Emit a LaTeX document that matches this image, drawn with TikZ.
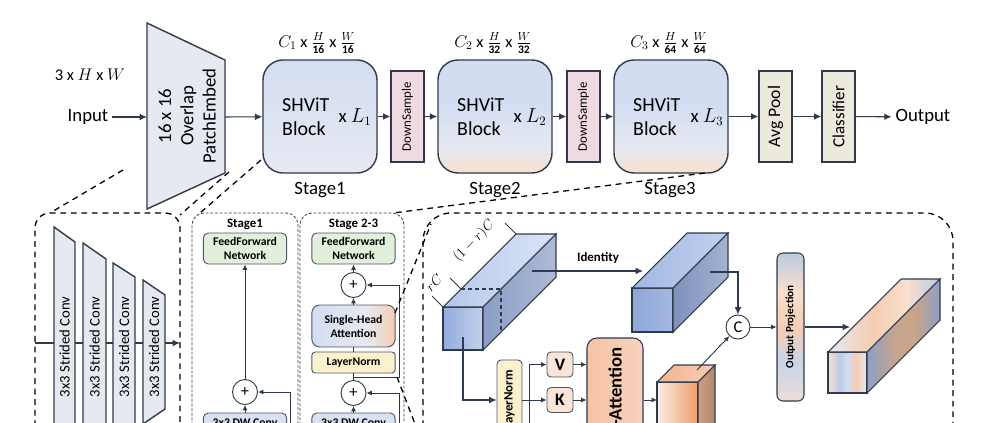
\documentclass[tikz,border=0pt]{standalone}
\usepackage{fontspec}
\setmainfont{Carlito}
\usepackage{amsmath}
\usepackage{graphicx}
\usepackage{xcolor}
\usetikzlibrary{arrows.meta,positioning,calc}
\definecolor{lineDark}{HTML}{2F3B4C}
\definecolor{convGray}{HTML}{E6E9F0}
\definecolor{blockBlue}{HTML}{D3DDF1}
\definecolor{blockPale}{HTML}{E6E9F1}
\definecolor{peach}{HTML}{F9E0CC}
\definecolor{peachDeep}{HTML}{F6CDB2}
\definecolor{dsPink}{HTML}{EFDAE2}
\definecolor{poolBeige}{HTML}{ECEADD}
\definecolor{ffnGreen}{HTML}{E2EFDA}
\definecolor{lnYellow}{HTML}{FDF0CD}
\definecolor{dwBlue}{HTML}{D9E2F3}
\definecolor{attnOrange}{HTML}{F5C3A5}
\definecolor{attnLight}{HTML}{F8D3BE}
\definecolor{qkvPeach}{HTML}{FBE4D8}
\definecolor{cubeBlueD}{HTML}{93ACDC}
\definecolor{cubeBlueL}{HTML}{C3D1ED}
\definecolor{cubeTopD}{HTML}{B4C7EA}
\definecolor{cubeTopL}{HTML}{DCE5F6}
\definecolor{cubeSideD}{HTML}{8A9DC5}
\definecolor{cubeSideL}{HTML}{AEBBD7}
\definecolor{cubeTwoF}{HTML}{8DA7D9}
\definecolor{cubeTwoFL}{HTML}{A4B8E1}
\definecolor{cubeTwoT}{HTML}{A2B7E2}
\definecolor{cubeTwoTL}{HTML}{C3D1EE}
\definecolor{cubeTwoS}{HTML}{7C91BB}
\definecolor{cubeTwoSL}{HTML}{A5B3D1}
\definecolor{orgLight}{HTML}{FCEDE3}
\definecolor{orgMid}{HTML}{F2B590}
\definecolor{orgDeep}{HTML}{EE9E6F}
\definecolor{orgSide}{HTML}{CF9F83}
\definecolor{orgSideD}{HTML}{B3876E}
\definecolor{mixBlue}{HTML}{BACAE7}
\definecolor{mixGray}{HTML}{8E9FC4}
\definecolor{mixTan}{HTML}{C8A48C}
\definecolor{opTop}{HTML}{BCC9E1}
\definecolor{opLow}{HTML}{C9D4EA}
\definecolor{opBot}{HTML}{ECDDD6}

% shadings
\pgfdeclareverticalshading{blockone}{100bp}{color(0bp)=(blockPale); color(25bp)=(blockPale); color(75bp)=(blockBlue); color(100bp)=(blockBlue)}
\pgfdeclareverticalshading{blocktwo}{100bp}{color(0bp)=(peach); color(25bp)=(peach); color(36bp)=(blockPale); color(55bp)=(blockBlue); color(100bp)=(blockBlue)}
\pgfdeclarehorizontalshading{shashade}{100bp}{color(0bp)=(blockBlue); color(25bp)=(blockBlue); color(58bp)=(blockPale); color(75bp)=(peachDeep); color(100bp)=(peachDeep)}
\pgfdeclareverticalshading{opshade}{100bp}{color(0bp)=(opBot); color(25bp)=(opBot); color(38bp)=(opLow); color(50bp)=(peachDeep); color(62bp)=(peach); color(75bp)=(opTop); color(100bp)=(opTop)}
\pgfdeclarehorizontalshading{mixfront}{100bp}{color(0bp)=(peach); color(25bp)=(peach); color(40bp)=(mixBlue); color(50bp)=(blockBlue); color(62bp)=(peachDeep); color(75bp)=(blockPale); color(100bp)=(blockPale)}
\pgfdeclarehorizontalshading{mixtop}{100bp}{color(0bp)=(blockPale); color(25bp)=(blockPale); color(45bp)=(peachDeep); color(60bp)=(peach); color(75bp)=(mixBlue); color(100bp)=(mixBlue)}
\pgfdeclarehorizontalshading{mixside}{100bp}{color(0bp)=(mixGray); color(25bp)=(mixGray); color(45bp)=(mixTan); color(58bp)=(mixTan); color(75bp)=(mixGray); color(100bp)=(mixGray)}
\pgfdeclarehorizontalshading{orgfront}{100bp}{color(0bp)=(orgLight); color(25bp)=(orgLight); color(60bp)=(orgMid); color(75bp)=(orgDeep); color(100bp)=(orgDeep)}
\pgfdeclarehorizontalshading{attnshade}{100bp}{color(0bp)=(attnOrange); color(25bp)=(attnOrange); color(75bp)=(attnLight); color(100bp)=(attnLight)}

% x y w h depth front top side
\newcommand{\drawcube}[8]{%
  \shade[#6, draw=lineDark, line width=0.9pt] (#1,#2) rectangle ({#1+#3},{#2+#4});
  \shade[#7, draw=lineDark, line width=0.9pt] (#1,#2) -- ({#1+#5},{#2-#5}) -- ({#1+#3+#5},{#2-#5}) -- ({#1+#3},#2) -- cycle;
  \shade[#8, draw=lineDark, line width=0.9pt] ({#1+#3},#2) -- ({#1+#3+#5},{#2-#5}) -- ({#1+#3+#5},{#2+#4-#5}) -- ({#1+#3},{#2+#4}) -- cycle;
}

\begin{document}
\begin{tikzpicture}[x=0.03cm, y=-0.03cm, font=\fontsize{16}{19}\selectfont,
  arr/.style={-{Latex[length=2.2mm,width=2mm]}, line width=0.9pt, draw=lineDark},
  sarr/.style={-{Latex[length=1.6mm,width=1.5mm]}, line width=0.8pt, draw=lineDark},
  blk/.style={draw=lineDark, line width=1.2pt, rounded corners=0.6cm, minimum width=3.42cm, minimum height=3.39cm, shade, inner sep=0pt},
  blktxt/.style={anchor=west, align=left, inner sep=0pt, font=\fontsize{17}{20.5}\selectfont},
  thinbox/.style={draw=lineDark, line width=1.1pt, minimum width=0.99cm, minimum height=2.73cm, inner sep=0pt},
  dimtxt/.style={font=\fontsize{14}{16}\selectfont},
  convshape/.style={draw=lineDark, line width=1.2pt, fill=convGray},
  zoomline/.style={draw=black, line width=1.1pt, dash pattern=on 5pt off 4pt},
  stagebox/.style={draw=black!75, line width=0.7pt, dash pattern=on 2.5pt off 1.5pt, rounded corners=0.36cm},
  ttl/.style={font=\bfseries\fontsize{11}{13}\selectfont},
  smallbox/.style={draw=lineDark!85, line width=0.8pt, rounded corners=0.15cm, minimum width=2.5cm, inner sep=1pt, align=center, font=\bfseries\fontsize{10}{12}\selectfont},
  plus/.style={circle, draw=lineDark, line width=0.8pt, fill=white, minimum size=0.75cm, inner sep=0pt, font=\fontsize{14}{14}\selectfont},
  qkv/.style={draw=lineDark!85, line width=0.8pt, rounded corners=0.12cm, fill=qkvPeach, minimum width=0.78cm, minimum height=0.75cm, inner sep=0pt, font=\bfseries\fontsize{15}{15}\selectfont},
  ccirc/.style={circle, draw=lineDark, line width=0.8pt, fill=white, minimum size=0.72cm, inner sep=0pt, font=\fontsize{14}{14}\selectfont}]
  \useasboundingbox (0,0) rectangle (995,423);
  \clip (0,0) rectangle (995,423);
  \fill[white] (0,0) rectangle (995,423);

  % top row
  \node[dimtxt] (inshape) at (90,75) {3 x $H$ x $W$};
  \node (input) at (88,117) {Input};
  \draw[convshape] (147,23) -- (225,60) -- (225,173) -- (147,209) -- cycle;
  \node[rotate=90, align=center] (pe) at (187,116) {16 x 16\\Overlap\\PatchEmbed};
  \coordinate (pe-in) at (147,117);
  \coordinate (pe-out) at (225,117);

  \node[blk, shading=blockone] (blk1) at (320,116.5) {};
  \node[blk, shading=blocktwo] (blk2) at (495,116.5) {};
  \node[blk, shading=blocktwo] (blk3) at (671,116.5) {};
  \node[blktxt] (blk1t) at (282,116.5) {SHViT\\Block};
  \node[blktxt] (blk2t) at (457,116.5) {SHViT\\Block};
  \node[blktxt] (blk3t) at (633,116.5) {SHViT\\Block};
  \node (blk1n) at (355,117) {x $L_1$};
  \node (blk2n) at (530,117) {x $L_2$};
  \node (blk3n) at (707,117) {x $L_3$};
  \node[dimtxt] (dim1) at (317,43) {$C_1$ x $\frac{H}{\mathbf{16}}$ x $\frac{W}{\mathbf{16}}$};
  \node[dimtxt] (dim2) at (493,43) {$C_2$ x $\frac{H}{\mathbf{32}}$ x $\frac{W}{\mathbf{32}}$};
  \node[dimtxt] (dim3) at (669,43) {$C_3$ x $\frac{H}{\mathbf{64}}$ x $\frac{W}{\mathbf{64}}$};
  \node (stg1) at (320,190) {Stage1};
  \node (stg2) at (495,190) {Stage2};
  \node (stg3) at (670,190) {Stage3};

  \node[thinbox, fill=dsPink, font=\fontsize{11}{13}\selectfont] (ds1) at (407.5,116.5) {\rotatebox{90}{DownSample}};
  \node[thinbox, fill=dsPink, font=\fontsize{11}{13}\selectfont] (ds2) at (583.5,116.5) {\rotatebox{90}{DownSample}};
  \node[thinbox, fill=poolBeige, font=\fontsize{15}{17}\selectfont] (pool) at (775.5,116.5) {\rotatebox{90}{Avg Pool}};
  \node[thinbox, fill=poolBeige, font=\fontsize{14.5}{17}\selectfont] (cls) at (838.5,116.5) {\rotatebox{90}{Classifier}};
  \node (output) at (923,117) {Output};

  \draw[arr] (input) -- (pe-in);
  \draw[arr] (pe-out) -- (blk1);
  \draw[arr] (blk1) -- (ds1);
  \draw[arr] (ds1) -- (blk2);
  \draw[arr] (blk2) -- (ds2);
  \draw[arr] (ds2) -- (blk3);
  \draw[arr] (blk3) -- (pool);
  \draw[arr] (pool) -- (cls);
  \draw[arr] (cls) -- (output);

  % patch embed detail
  \draw[zoomline, rounded corners=0.45cm] (35,500) -- (35,213) -- (180,213) -- (180,500);
  \coordinate (pin) at (35,343);
  \coordinate (pout) at (180,343);
  \draw[arr] (pin) -- (pout);
  \foreach \i/\xl/\xr/\yl/\yr in {1/54/75/227/242,2/83/106/243/259,3/113/135/263/277,4/143/165/280/295}{
    \draw[convshape] (\xl,\yl) -- (\xr,\yr) -- (\xr,{704-\yr}) -- (\xl,{704-\yl}) -- cycle;
    \node[rotate=90, font=\fontsize{12.5}{15}\selectfont] (sc\i) at ({(\xl+\xr)/2},347) {3x3 Strided Conv};
  }

  % stage blocks
  \draw[stagebox] (192,500) -- (192,213) -- (298,213) -- (298,500);
  \draw[stagebox] (300,500) -- (300,213) -- (404,213) -- (404,500);
  \node[ttl] (st1) at (245,224) {Stage1};
  \node[ttl] (st23) at (353.5,224) {Stage 2-3};
  \node[smallbox, fill=ffnGreen, minimum height=0.93cm] (ffn1) at (245,248.5) {FeedForward\\Network};
  \node[plus] (plus1) at (245,392) {+};
  \node[smallbox, fill=dwBlue, minimum height=0.6cm] (dw1) at (245,423) {3x3 DW Conv};
  \coordinate (skip1) at (290,440);
  \draw[sarr] (dw1) -- (plus1);
  \draw[sarr] (plus1) -- (ffn1);
  \draw[sarr] (skip1) |- (plus1);

  \node[smallbox, fill=ffnGreen, minimum height=0.93cm] (ffn2) at (353.5,248.5) {FeedForward\\Network};
  \node[plus] (plus2a) at (353.5,285) {+};
  \node[smallbox, shade, shading=shashade, rounded corners=0.24cm, minimum height=1.26cm] (sha) at (353.5,326) {Single-Head\\Attention};
  \node[smallbox, fill=lnYellow, rounded corners=0.1cm, minimum height=0.63cm] (ln) at (353.5,362.5) {LayerNorm};
  \node[plus] (plus2b) at (353.5,393) {+};
  \node[smallbox, fill=dwBlue, minimum height=0.6cm] (dw2) at (353.5,423) {3x3 DW Conv};
  \coordinate (tap) at (353.5,377);
  \coordinate (skip2a) at (399.5,377);
  \coordinate (skip2b) at (399.5,440);
  \draw[sarr] (dw2) -- (plus2b);
  \draw[line width=0.8pt, lineDark] (plus2b) -- (ln);
  \draw[line width=0.8pt, lineDark] (ln) -- (sha);
  \draw[sarr] (sha) -- (plus2a);
  \draw[sarr] (plus2a) -- (ffn2);
  \draw[sarr] (tap) -- (skip2a) |- (plus2a);
  \draw[sarr] (skip2b) |- (plus2b);

  % single-head attention detail
  \draw[zoomline, rounded corners=0.84cm] (423,500) -- (423,213) -- (953,213) -- (953,500);
  \drawcube{443}{307}{40}{43}{73}{left color=cubeBlueD, right color=cubeBlueL}{left color=cubeTopD, right color=cubeTopL}{left color=cubeSideD, right color=cubeSideL}
  \draw[lineDark, line width=1pt, dashed] (461,289) -- (501,289) -- (501,332);
  \draw[lineDark, line width=0.7pt] (443,307) -- ++(-11,-11);
  \draw[lineDark, line width=0.7pt] (461,289) -- ++(-11,-11);
  \draw[lineDark, line width=0.7pt] (516,234) -- ++(-11,-11);
  \node[rotate=45, inner sep=0pt, font=\fontsize{13}{15}\selectfont] (lrc) at (434,283) {$rC$};
  \node[rotate=45, inner sep=0pt, font=\fontsize{13}{15}\selectfont] (l1rc) at (474,241) {$(1-r)C$};

  \drawcube{632}{288}{41}{44}{55}{left color=cubeTwoF, right color=cubeTwoFL}{left color=cubeTwoT, right color=cubeTwoTL}{left color=cubeTwoS, right color=cubeTwoSL}
  \drawcube{828}{352}{39}{41}{73}{shading=mixfront}{shading=mixtop}{shading=mixside}
  \drawcube{657}{382}{41}{70}{17}{shading=orgfront}{left color=orgMid, right color=peachDeep}{left color=orgSide, right color=orgSideD}

  \coordinate (c1s) at (532,271);
  \coordinate (c2in) at (643,271);
  \coordinate (c2s) at (710,272);
  \coordinate (c1f) at (463,337);
  \coordinate (c4t) at (697,370);
  \coordinate (c4in) at (657,400);
  \coordinate (c3in) at (850,327);
  \coordinate (br) at (529,400);
  \draw[arr] (c1s) -- (c2in);
  \node[font=\bfseries\fontsize{11}{13}\selectfont] (ident) at (598,258) {Identity};

  \node[ccirc] (cc) at (738,327) {C};
  \node[draw=lineDark, line width=0.9pt, rounded corners=0.18cm, shade, shading=opshade, minimum width=0.81cm, minimum height=4.44cm, inner sep=0pt, font=\bfseries\fontsize{9.5}{11}\selectfont] (op) at (790.5,327) {\rotatebox{90}{Output Projection}};
  \draw[arr] (c2s) -| (cc);
  \draw[sarr] (c4t) -- (cc);
  \draw[sarr] (cc) -- (op);
  \draw[arr] (op) -- (c3in);

  \node[draw=lineDark, line width=0.9pt, rounded corners=0.3cm, shade, shading=attnshade, minimum width=1.68cm, minimum height=3.96cm] (attn) at (615,404) {};
  \node[rotate=90, anchor=east, inner sep=0pt, font=\bfseries\fontsize{16}{18}\selectfont] (attntxt) at (615,347) {-Attention};
  \node[draw=lineDark!85, line width=0.8pt, rounded corners=0.12cm, fill=lnYellow, minimum width=0.75cm, minimum height=3cm] (ln2) at (509.5,410) {};
  \node[rotate=90, anchor=east, inner sep=0pt, font=\bfseries\fontsize{11}{13}\selectfont] (ln2t) at (509.5,370) {LayerNorm};
  \node[qkv] (v) at (560,364.5) {V};
  \node[qkv] (k) at (560,400) {K};
  \node[qkv] (q) at (560,436) {};
  \draw[arr] (c1f) |- (k -| ln2.west);
  \draw[sarr] (k -| ln2.east) -- (k);
  \draw[sarr] (br) |- (v);
  \draw[sarr] (br) |- (q);
  \draw[sarr] (v) -- (v -| attn.west);
  \draw[sarr] (k) -- (k -| attn.west);
  \draw[sarr] (k -| attn.east) -- (c4in);

  % zoom lines
  \coordinate (z1a) at (123,170);  \coordinate (z1b) at (50,213);
  \coordinate (z2a) at (229,172);  \coordinate (z2b) at (180,215);
  \coordinate (z3a) at (261,160);  \coordinate (z3b) at (200,213);
  \coordinate (z4a) at (705,173);  \coordinate (z4b) at (393,213);
  \coordinate (z5a) at (395,313);  \coordinate (z5b) at (431,224);
  \coordinate (z6a) at (397,377);  \coordinate (z6b) at (425,450);
  \draw[zoomline] (z1a) -- (z1b);
  \draw[zoomline] (z2a) -- (z2b);
  \draw[zoomline] (z3a) -- (z3b);
  \draw[zoomline] (z4a) -- (z4b);
  \draw[zoomline] (z5a) -- (z5b);
  \draw[zoomline] (z6a) -- (z6b);
\end{tikzpicture}
\end{document}
